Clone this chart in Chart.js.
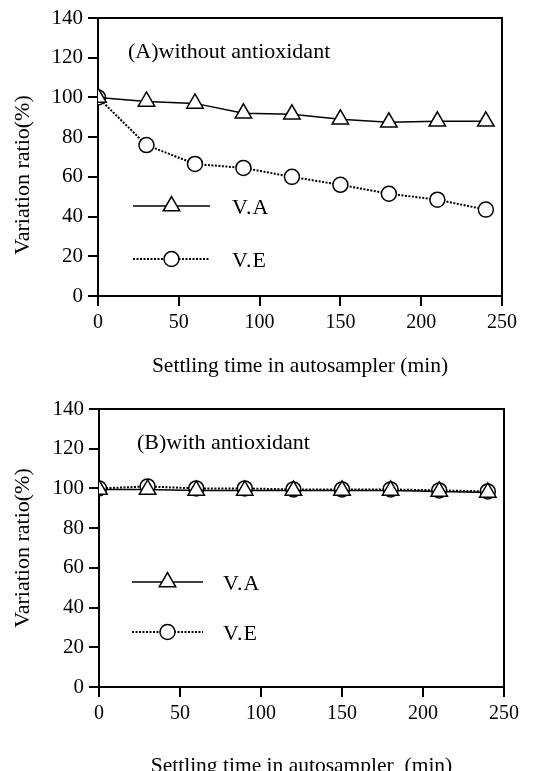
<!DOCTYPE html>
<html>
<head>
<meta charset="utf-8">
<script src="https://cdn.jsdelivr.net/npm/chart.js@4.4.1/dist/chart.umd.min.js"></script>
<style>
  html, body { margin: 0; padding: 0; background: #fff; overflow: hidden; }
  .panel { position: absolute; left: 0; }
  #panelA { top: 0; }
  #panelB { top: 385px; }
</style>
</head>
<body>
<div class="panel" id="panelA"><canvas id="chartA" width="538" height="385"></canvas></div>
<div class="panel" id="panelB"><canvas id="chartB" width="538" height="400"></canvas></div>
<script>
// settling time (min)
const times = [0, 30, 60, 90, 120, 150, 180, 210, 240];

// (A) without antioxidant
const vaWithout = [100, 98, 97, 92, 91.5, 89, 87.5, 88, 88];
const veWithout = [100, 76, 66.5, 64.5, 60, 56, 51.5, 48.5, 43.5];

// (B) with antioxidant
const vaWith = [99.5, 99.5, 99, 99, 99, 99, 99, 98.5, 98];
const veWith = [100, 101, 100, 100, 99.5, 99.5, 99.5, 99, 98.5];

const xTicks = [0, 50, 100, 150, 200, 250];
const yTicks = [0, 20, 40, 60, 80, 100, 120, 140];

const FONT = '"Liberation Serif", "Times New Roman", serif';

function toPoints(values) {
    return values.map((v, i) => ({ x: times[i], y: v }));
}

// box around the plot area
const framePlugin = {
    id: 'frame',
    beforeDatasetsDraw(chart) {
        const { ctx, chartArea } = chart;
        ctx.save();
        ctx.strokeStyle = '#000';
        ctx.lineWidth = 2;
        ctx.strokeRect(chartArea.left, chartArea.top, chartArea.right - chartArea.left, chartArea.bottom - chartArea.top);
        ctx.restore();
    }
};

// legend drawn inside the plot, the panel caption and the y title
const insideLegend = {
    id: 'insideLegend',
    afterDatasetsDraw(chart, args, opts) {
        const { ctx, chartArea } = chart;
        ctx.save();
        ctx.fillStyle = '#000';
        ctx.textBaseline = 'middle';
        ctx.textAlign = 'left';
        ctx.font = '22px ' + FONT;
        ctx.fillText(opts.caption, chartArea.left + opts.captionX, chartArea.top + opts.captionY);

        // y axis title
        ctx.save();
        ctx.translate(opts.yTitleX, (chartArea.top + chartArea.bottom) / 2 + opts.yTitleShift);
        ctx.rotate(-Math.PI / 2);
        ctx.textAlign = 'center';
        ctx.fillText('Variation ratio(%)', 0, 0);
        ctx.restore();

        ctx.letterSpacing = '1px';
        chart.data.datasets.forEach((ds, i) => {
            const y = chartArea.top + opts.top + i * opts.gap;
            const x0 = chartArea.left + opts.left;
            ctx.strokeStyle = '#000';
            ctx.lineWidth = ds.borderWidth;
            ctx.setLineDash(ds.borderDash || []);
            ctx.beginPath();
            ctx.moveTo(x0, y);
            ctx.lineTo(x0 + opts.lineLen, y);
            ctx.stroke();
            ctx.setLineDash([]);
            ctx.fillStyle = '#fff';
            ctx.lineWidth = ds.pointBorderWidth;
            Chart.helpers.drawPoint(ctx, {
                pointStyle: ds.pointStyle,
                radius: ds.pointRadius,
                borderWidth: ds.pointBorderWidth,
                rotation: 0
            }, x0 + opts.lineLen / 2, y);
            ctx.fillStyle = '#000';
            ctx.fillText(ds.label, chartArea.left + opts.textX, y + 2);
        });
        ctx.restore();
    }
};

function makeDatasets(va, ve) {
    return [
        {
            label: 'V.A',
            data: toPoints(va),
            borderColor: '#000',
            borderWidth: 1.5,
            pointStyle: 'triangle',
            pointRadius: 9.5,
            pointBorderWidth: 1.5,
            pointBorderColor: '#000',
            pointBackgroundColor: '#fff',
            tension: 0
        },
        {
            label: 'V.E',
            data: toPoints(ve),
            borderColor: '#000',
            borderWidth: 2,
            borderDash: [2, 1.5],
            pointStyle: 'circle',
            pointRadius: 7.5,
            pointBorderWidth: 1.5,
            pointBorderColor: '#000',
            pointBackgroundColor: '#fff',
            tension: 0
        }
    ];
}

function makeChart(id, va, ve, cfg) {
    const ctx = document.getElementById(id).getContext('2d');
    return new Chart(ctx, {
        type: 'line',
        data: { datasets: makeDatasets(va, ve) },
        options: {
            responsive: false,
            animation: false,
            layout: { padding: { top: cfg.padTop, right: cfg.padRight, bottom: 0, left: 0 } },
            plugins: {
                legend: { display: false },
                tooltip: { enabled: false },
                insideLegend: cfg.legend
            },
            scales: {
                x: {
                    type: 'linear',
                    min: 0,
                    max: 250,
                    afterBuildTicks: s => { s.ticks = xTicks.map(v => ({ value: v })); },
                    afterFit: s => { s.height = cfg.xHeight; },
                    ticks: { color: '#000', font: { family: FONT, size: 20 }, padding: 5, maxRotation: 0 },
                    grid: { drawOnChartArea: false, drawTicks: true, tickLength: 10, color: '#000', lineWidth: 2 },
                    border: { color: '#000', width: 2 },
                    title: {
                        display: true,
                        text: cfg.xTitle,
                        color: '#000',
                        font: { family: FONT, size: 21.5 },
                        padding: { top: 0, bottom: cfg.xTitlePad }
                    }
                },
                y: {
                    min: 0,
                    max: 140,
                    afterBuildTicks: s => { s.ticks = yTicks.map(v => ({ value: v })); },
                    afterFit: s => { s.width = cfg.yWidth; },
                    ticks: { color: '#000', font: { family: FONT, size: 21 }, padding: 5 },
                    grid: { drawOnChartArea: false, drawTicks: true, tickLength: 10, color: '#000', lineWidth: 2 },
                    border: { color: '#000', width: 2 }
                }
            }
        },
        plugins: [framePlugin, insideLegend]
    });
}

makeChart('chartA', vaWithout, veWithout, {
    padTop: 18, padRight: 36, xHeight: 89, yWidth: 98, xTitlePad: 6,
    xTitle: 'Settling time in autosampler (min)',
    legend: { caption: '(A)without antioxidant', captionX: 30, captionY: 34,
              yTitleX: 23, yTitleShift: 18,
              left: 35, lineLen: 77, top: 188, gap: 53, textX: 134 }
});

makeChart('chartB', vaWith, veWith, {
    padTop: 24, padRight: 34, xHeight: 98, yWidth: 99, xTitlePad: 6,
    xTitle: 'Settling time in autosampler  (min)',
    legend: { caption: '(B)with antioxidant', captionX: 38, captionY: 34,
              yTitleX: 23, yTitleShift: 0,
              left: 33, lineLen: 71, top: 173, gap: 50, textX: 124 }
});
</script>
</body>
</html>
